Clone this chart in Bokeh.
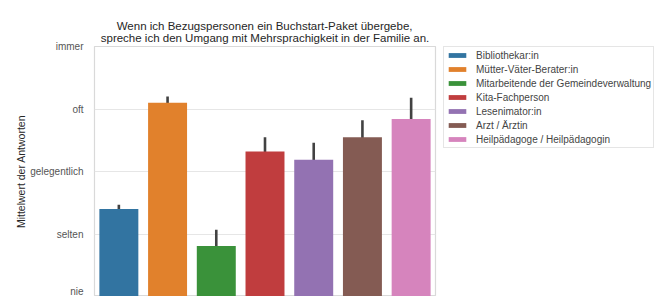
from bokeh.plotting import figure
from bokeh.layouts import row
from bokeh.models import (ColumnDataSource, Legend, LegendItem, FactorRange, FixedTicker,
                          Whisker, Range1d)
from bokeh.embed import file_html
from bokeh.resources import INLINE

categories = ["Bibliothekar:in", "Mütter-Väter-Berater:in", "Mitarbeitende der Gemeindeverwaltung",
              "Kita-Fachperson", "Lesenimator:in", "Arzt / Ärztin", "Heilpädagoge / Heilpädagogin"]
means = [1.40, 3.10, 0.81, 2.32, 2.19, 2.55, 2.84]
err_low = [1.33, 2.97, 0.56, 2.10, 1.96, 2.30, 2.50]
err_high = [1.47, 3.20, 1.07, 2.55, 2.46, 2.82, 3.18]
colors = ["#3274a1", "#e1812c", "#3a923a", "#c03d3e", "#9372b2", "#845b53", "#d684bd"]
tick_values = [0, 1, 2, 3, 4]
tick_labels = ["nie", "selten", "gelegentlich", "oft", "immer"]
title_lines = ["Wenn ich Bezugspersonen ein Buchstart-Paket übergebe,",
               "spreche ich den Umgang mit Mehrsprachigkeit in der Familie an."]

FONT = "Liberation Sans"

src = ColumnDataSource(dict(cat=categories, mean=means, lo=err_low, hi=err_high, color=colors))

p = figure(width=439, height=296, x_range=FactorRange(*categories, range_padding=0),
           y_range=Range1d(0, 4), output_backend="svg", toolbar_location=None,
           min_border_left=94, min_border_bottom=0, min_border_right=4, min_border_top=35)

# centre the shorter first line over the second one (multi-line titles are left-aligned)
p.title.text = "\u00a0" * 5 + title_lines[0] + "\n" + title_lines[1]
p.title.align = "center"
p.title.text_font = FONT
p.title.text_font_size = "11.5px"
p.title.text_font_style = "normal"
p.title.text_color = "#262626"
p.title.standoff = 5

bars = p.vbar(x="cat", top="mean", bottom=0, width=0.8, color="color", line_color=None, source=src)

w = Whisker(base="cat", lower="lo", upper="hi", source=src, line_color="#424242", line_width=2.6)
w.upper_head = None
w.lower_head = None
p.add_layout(w)

p.xaxis.visible = False
p.xgrid.grid_line_color = None
p.ygrid.grid_line_color = "#e6e6e6"
p.ygrid.grid_line_width = 1.2
p.outline_line_color = "#d9d9d9"
p.outline_line_width = 1.2

p.yaxis.ticker = FixedTicker(ticks=tick_values)
p.yaxis.major_label_overrides = {v: l for v, l in zip(tick_values, tick_labels)}
p.yaxis.axis_line_color = None
p.yaxis.major_tick_line_color = None
p.yaxis.minor_tick_line_color = None
p.yaxis.major_label_text_font = FONT
p.yaxis.major_label_text_font_size = "10px"
p.yaxis.major_label_text_color = "#555555"
p.yaxis.major_label_standoff = 5
p.yaxis.axis_label = "Mittelwert der Antworten"
p.yaxis.axis_label_text_font = FONT
p.yaxis.axis_label_text_font_size = "10.5px"
p.yaxis.axis_label_text_font_style = "normal"
p.yaxis.axis_label_text_color = "#262626"
p.yaxis.axis_label_standoff = 0

# legend panel (legend proxies are zero-height bars, outside the visible range)
lsrc = ColumnDataSource(dict(cat=categories, color=colors))
p2 = figure(width=218, height=296, x_range=FactorRange(*categories), y_range=Range1d(100, 101),
            output_backend="svg", toolbar_location=None,
            min_border_left=4, min_border_top=46, min_border_right=0, min_border_bottom=0)
p2.axis.visible = False
p2.grid.visible = False
p2.outline_line_color = None
lbars = p2.vbar(x="cat", top=0, bottom=0, width=0.8, color="color", line_color=None, source=lsrc)

items = [LegendItem(label=c, renderers=[lbars], index=i) for i, c in enumerate(categories)]
legend = Legend(items=items, location="top_left")
legend.label_text_font = FONT
legend.label_text_font_size = "10px"
legend.label_text_color = "#444444"
legend.glyph_width = 22
legend.glyph_height = 6
legend.label_height = 12
legend.label_standoff = 8
legend.spacing = 2
legend.padding = 2
legend.margin = 0
legend.border_line_color = "#cccccc"
legend.border_line_width = 1
legend.background_fill_color = "white"
p2.add_layout(legend)

layout = row(p, p2)
open("out.html", "w").write(file_html(layout, INLINE))
